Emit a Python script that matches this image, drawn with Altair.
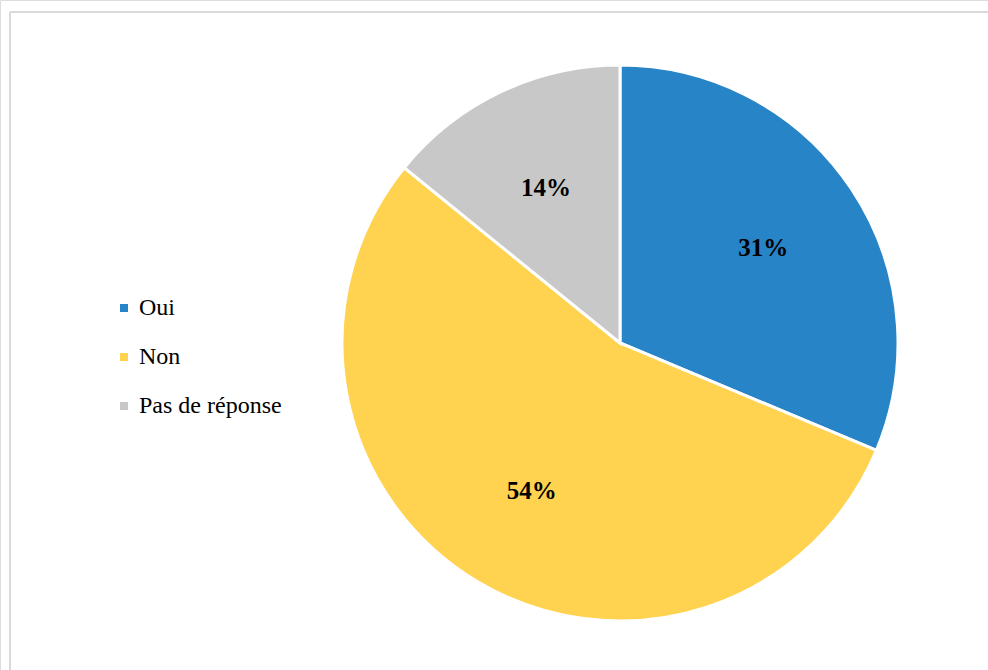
import altair as alt
import pandas as pd

categories = ["Oui", "Non", "Pas de réponse"]
values = [31, 54, 14]
labels = ["31%", "54%", "14%"]
colors = ["#2784C7", "#FFD24F", "#C8C8C8"]

df = pd.DataFrame({"cat": categories, "val": values, "lab": labels, "order": [0, 1, 2]})

W, H = 988, 670
CX, CY, R = 620, 343, 278
SERIF = "Liberation Serif, Times New Roman, serif"

base = alt.Chart(df).encode(
    theta=alt.Theta("val:Q", stack=True),
    order=alt.Order("order:Q"),
)

pie = base.mark_arc(stroke="white", strokeWidth=3, radius=R).encode(
    color=alt.Color(
        "cat:N",
        scale=alt.Scale(domain=categories, range=colors),
        sort=categories,
        legend=alt.Legend(
            title=None,
            orient="none",
            legendX=112,
            legendY=296,
            symbolType="square",
            symbolSize=64,
            symbolStrokeWidth=0,
            labelFont=SERIF,
            labelFontSize=24,
            labelColor="#000000",
            rowPadding=25,
            labelOffset=3,
        ),
    ),
    x=alt.value(CX),
    y=alt.value(CY),
)

text = base.mark_text(
    radius=172, font=SERIF, fontSize=25, fontWeight="bold", color="#000000"
).encode(
    text="lab:N",
    x=alt.value(CX),
    y=alt.value(CY),
)

border_df = pd.DataFrame({"k": [0]})
top = alt.Chart(border_df).mark_rule(color="#D9D9D9", strokeWidth=2).encode(
    x=alt.value(10), x2=alt.value(W), y=alt.value(12)
)
left = alt.Chart(border_df).mark_rule(color="#D9D9D9", strokeWidth=2).encode(
    x=alt.value(10), y=alt.value(12), y2=alt.value(H)
)

chart = (
    alt.layer(top, left, pie, text)
    .properties(width=W, height=H, padding=0, autosize=alt.AutoSizeParams(type="none"))
    .configure_view(stroke=None)
    .configure_legend(labelFont=SERIF, labelFontSize=24, labelColor="#000000")
    .configure(background="white")
)

chart.save("out.html", embed_options={"renderer": "svg", "actions": False})
